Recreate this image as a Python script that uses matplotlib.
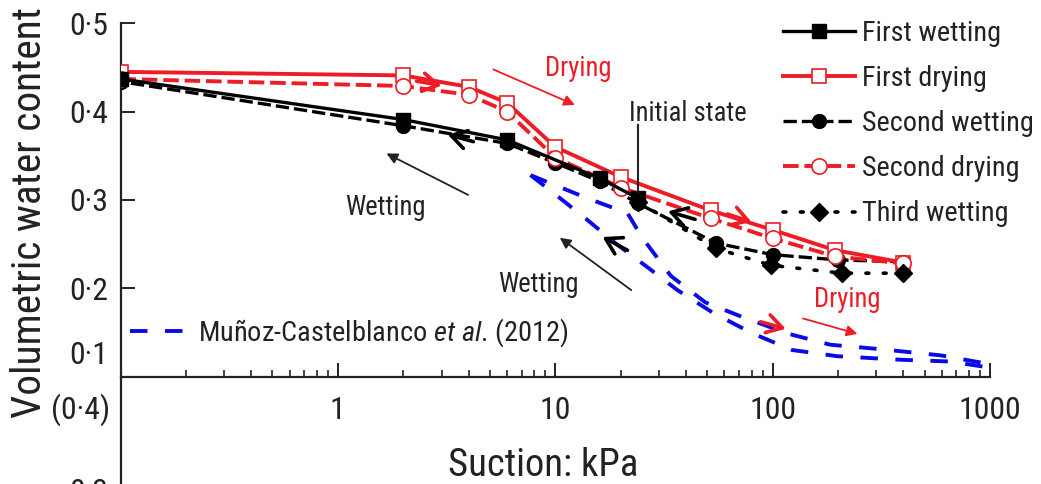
import matplotlib
matplotlib.use('Agg')
import matplotlib.pyplot as plt
from matplotlib import font_manager
from matplotlib.lines import Line2D
import matplotlib.ticker as mticker

# ---------------- data (suction kPa, volumetric water content) ----------------
first_wetting_s = [24, 16, 6, 2, 0.1]
first_wetting_w = [0.302, 0.3245, 0.368, 0.391, 0.437]

first_drying_s = [0.1, 2, 4, 6, 10, 20, 52, 100, 194, 400]
first_drying_w = [0.445, 0.441, 0.428, 0.410, 0.360, 0.326, 0.288, 0.266, 0.243, 0.229]

second_wetting_s = [400, 200, 100, 55, 24, 16, 10, 6, 2, 0.1]
second_wetting_w = [0.230, 0.232, 0.238, 0.251, 0.296, 0.321, 0.342, 0.364, 0.384, 0.434]

second_drying_s = [0.1, 2, 4, 6, 10, 20, 52, 100, 194, 400]
second_drying_w = [0.437, 0.429, 0.419, 0.400, 0.348, 0.314, 0.279, 0.2565, 0.236, 0.228]

third_wetting_s = [400, 208, 98, 55, 24]
third_wetting_w = [0.217, 0.217, 0.226, 0.245, 0.298]

munoz_upper_s = [7.7, 14, 21.5, 25, 34, 49, 75, 120, 184, 312, 590, 1000]
munoz_upper_w = [0.328, 0.302, 0.285, 0.258, 0.214, 0.184, 0.166, 0.148, 0.136, 0.131, 0.124, 0.114]
munoz_lower_s = [7.7, 9.8, 14.1, 18.9, 26.8, 36.4, 53.3, 80.5, 123, 198, 386, 654, 1000]
munoz_lower_w = [0.328, 0.308, 0.277, 0.251, 0.223, 0.198, 0.172, 0.149, 0.130, 0.123, 0.119, 0.117, 0.110]

y_ticks = [0.2, 0.3, 0.4, 0.5]
y_tick_labels = ['0·2', '0·3', '0·4', '0·5']
x_ticks = [0.1, 1, 10, 100, 1000]
x_tick_labels = ['', '1', '10', '100', '1000']

legend_labels = ['First wetting', 'First drying', 'Second wetting', 'Second drying', 'Third wetting']

# ---------------- figure ----------------
W, H, DPI = 1041, 484, 100
fig = plt.figure(figsize=(W / DPI, H / DPI), dpi=DPI)
renderer = fig.canvas.get_renderer()

names = {f.name for f in font_manager.fontManager.ttflist}
FONT = 'Lato'
for cand in ['Liberation Sans Narrow', 'Roboto Condensed', 'Open Sans Condensed']:
    if cand in names:
        FONT = cand
        break
plt.rcParams['font.family'] = [FONT, 'DejaVu Sans']
plt.rcParams['mathtext.fontset'] = 'custom'
plt.rcParams['mathtext.rm'] = FONT
plt.rcParams['mathtext.it'] = FONT + ':italic'


def fit(text, target_px, **kw):
    t = fig.text(0, 0, text, fontsize=50, **kw)
    w = t.get_window_extent(renderer).width
    t.remove()
    return 50.0 * target_px / w


tick_fs = fit('1000', 63)
leg_fs = fit('Second wetting', 172)
xlab_fs = fit('Suction: kPa', 190)
ylab_fs = fit('Volumetric water content', 412)
ann_fs = fit('Initial state', 118)
blue_fs = fit('Muñoz-Castelblanco et al. (2012)', 372)

RED = '#ee1c24'
BLUE = '#0a0ae8'
AXC = '#222222'
BLUE_DASH = (4.5, 4.5)

x0, x1, y0, y1 = 120.5, 990, 23.3, 376.5
ax = fig.add_axes([x0 / W, 1 - y1 / H, (x1 - x0) / W, (y1 - y0) / H])
ax.set_xscale('log')
ax.set_xlim(0.1, 1000)
ax.set_ylim(0.1, 0.5)
for s in ['top', 'right']:
    ax.spines[s].set_visible(False)
for s in ['left', 'bottom']:
    ax.spines[s].set_linewidth(1.6)
    ax.spines[s].set_color(AXC)
# continuation of the y axis into the (cropped) lower panel
ax.plot([0, 0], [0, -(H - y1) / (y1 - y0) - 0.05], transform=ax.transAxes,
        color=AXC, lw=1.6, clip_on=False, solid_capstyle='butt')

ax.xaxis.set_major_locator(mticker.FixedLocator(x_ticks))
ax.xaxis.set_major_formatter(mticker.FixedFormatter(x_tick_labels))
ax.xaxis.set_minor_locator(mticker.LogLocator(base=10, subs=range(2, 10), numticks=20))
ax.xaxis.set_minor_formatter(mticker.NullFormatter())
ax.set_yticks(y_ticks)
ax.set_yticklabels(y_tick_labels)
ax.tick_params(axis='x', which='major', direction='in', length=10, width=1.4,
               color=AXC, labelsize=tick_fs, pad=14, labelcolor='#222')
ax.tick_params(axis='x', which='minor', direction='in', length=5, width=1.2, color=AXC)
ax.tick_params(axis='y', which='major', direction='in', length=10, width=1.4,
               color=AXC, labelsize=tick_fs, pad=9, labelcolor='#222')
ax.tick_params(axis='y', which='minor', left=False)

# extra y labels of the composite figure
fig.text(108 / W, 1 - 355 / H, '0·1', ha='right', va='center', fontsize=tick_fs, color='#222')
fig.text(110 / W, 1 - 410 / H, '(0·4)', ha='right', va='center', fontsize=tick_fs, color='#222')
fig.text(108 / W, 1 - 478 / H, '0·3', ha='right', va='top', fontsize=tick_fs, color='#222')

fig.text(543 / W, 1 - 465 / H, 'Suction: kPa', ha='center', va='center', fontsize=xlab_fs, color='#222')
fig.text(30 / W, 1 - 212 / H, 'Volumetric water content', ha='center', va='center',
         rotation=90, fontsize=ylab_fs, color='#222')

# ---------------- series ----------------
ax.plot(munoz_upper_s, munoz_upper_w, color=BLUE, lw=2.8, dashes=BLUE_DASH, zorder=2)
ax.plot(munoz_lower_s, munoz_lower_w, color=BLUE, lw=2.8, dashes=BLUE_DASH, zorder=2)

l_sw, = ax.plot(second_wetting_s, second_wetting_w, color='black', lw=2.4, dashes=(4, 1.5),
                marker='o', ms=10, mfc='black', mec='black', zorder=3, label=legend_labels[2])
l_fd, = ax.plot(first_drying_s, first_drying_w, color=RED, lw=2.8,
                marker='s', ms=10, mfc='white', mec=RED, mew=1.2, zorder=4, label=legend_labels[1])
l_sd, = ax.plot(second_drying_s, second_drying_w, color=RED, lw=2.8, dashes=(4, 1.5),
                marker='o', ms=11, mfc='white', mec=RED, mew=1.2, zorder=4.5, label=legend_labels[3])
l_fw, = ax.plot(first_wetting_s, first_wetting_w, color='black', lw=2.4,
                marker='s', ms=10, mfc='black', mec='black', zorder=5, label=legend_labels[0])
l_tw, = ax.plot(third_wetting_s, third_wetting_w, color='black', lw=2.6, dashes=(0.8, 4),
                dash_capstyle='round', marker='D', ms=9, mfc='black', mec='black', zorder=6,
                label=legend_labels[4])

leg = ax.legend(handles=[l_fw, l_fd, l_sw, l_sd, l_tw], loc='upper left',
                bbox_to_anchor=(783 / W, 1 - 20 / H), bbox_transform=fig.transFigure,
                frameon=False, fontsize=leg_fs, handlelength=72 / (leg_fs * DPI / 72),
                handletextpad=0.25, labelspacing=0.64, borderpad=0, borderaxespad=0)
for t in leg.get_texts():
    t.set_color('#222')
ax.add_artist(leg)

blue_proxy = Line2D([], [], color=BLUE, lw=2.8, dashes=BLUE_DASH)
leg2 = ax.legend(handles=[blue_proxy], labels=['Muñoz-Castelblanco $\\mathit{et\\ al}$. (2012)'],
                 loc='center left', bbox_to_anchor=(130 / W, 1 - 333 / H),
                 bbox_transform=fig.transFigure, frameon=False, fontsize=blue_fs,
                 handlelength=65 / (blue_fs * DPI / 72), handletextpad=0.1,
                 borderpad=0, borderaxespad=0)
for t in leg2.get_texts():
    t.set_color('#222')

# ---------------- annotations ----------------
ax.text(12.8, 0.449, 'Drying', color=RED, fontsize=ann_fs, ha='center', va='center')
ax.annotate('', xy=(12.65, 0.4063), xytext=(5.05, 0.449),
            arrowprops=dict(arrowstyle='-|>', color=RED, lw=1.3, mutation_scale=16))
ax.text(40.9, 0.398, 'Initial state', color='#222', fontsize=ann_fs, ha='center', va='center')
ax.plot([24.1, 24.1], [0.385, 0.309], color='#222', lw=1.5, zorder=7)
ax.text(1.66, 0.291, 'Wetting', color='#222', fontsize=ann_fs, ha='center', va='center')
ax.annotate('', xy=(1.63, 0.354), xytext=(4.08, 0.3042),
            arrowprops=dict(arrowstyle='-|>', color='#222', lw=1.3, mutation_scale=16))
ax.text(8.38, 0.204, 'Wetting', color='#222', fontsize=ann_fs, ha='center', va='center')
ax.annotate('', xy=(10.25, 0.259), xytext=(22.9, 0.196),
            arrowprops=dict(arrowstyle='-|>', color='#222', lw=1.3, mutation_scale=16))
ax.text(220, 0.187, 'Drying', color=RED, fontsize=ann_fs, ha='center', va='center')
ax.annotate('', xy=(252.6, 0.1474), xytext=(134, 0.1666),
            arrowprops=dict(arrowstyle='-|>', color=RED, lw=1.3, mutation_scale=16))

# chevrons along the paths
chev = [((2.3, 0.4345), (3.0, 0.4295), RED),
        ((62, 0.284), (80, 0.275), RED),
        ((88, 0.162), (115, 0.154), RED),
        ((4.2, 0.366), (3.2, 0.374), 'black'),
        ((21.5, 0.243), (16.5, 0.258), 'black'),
        ((44, 0.278), (33, 0.287), 'black')]
for tail, head, c in chev:
    ax.annotate('', xy=head, xytext=tail,
                arrowprops=dict(arrowstyle='->,head_length=0.5,head_width=0.3', color=c,
                                lw=2.6, mutation_scale=22, shrinkA=0, shrinkB=0), zorder=7)

fig.savefig('out.png', dpi=DPI)
